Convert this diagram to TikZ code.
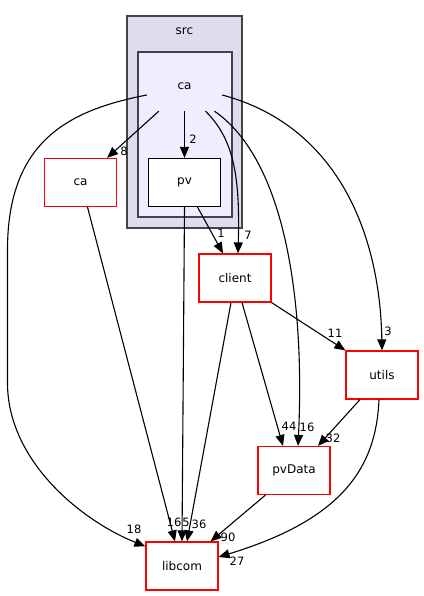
\documentclass[tikz,border=0pt]{standalone}
\usepackage{fontspec}
\setmainfont{DejaVu Sans}
\usepackage{xcolor}
\definecolor{outerdir}{HTML}{DDDDEE}
\definecolor{innerdir}{HTML}{EEEEFF}
\definecolor{rimgray}{HTML}{444444}
\usetikzlibrary{arrows.meta}

\begin{document}
\begin{tikzpicture}[x=1pt,y=-1pt,
    dirbox/.style={rectangle, draw=red, fill=white, line width=1.2pt,
        minimum width=72pt, minimum height=48pt, inner sep=0pt,
        font=\fontsize{12}{14}\selectfont},
    dep/.style={line width=1.1pt, -{Triangle[length=11pt,width=9pt]}},
    num/.style={font=\fontsize{11.5}{13}\selectfont, inner sep=0pt}]
    \useasboundingbox (0,0) rectangle (423,596);

    % Cluster src
    \node [rectangle,
        fill=outerdir,
        draw=rimgray,
        line width=1.5pt,
        minimum width=115pt,
        minimum height=212pt,
        label={[num, yshift=-20pt, font=\fontsize{12}{14}\selectfont]north:src}] (srcDir) at (184.5,122){};

    % Cluster ca
    \node [rectangle,
        fill=innerdir,
        draw=rimgray,
        line width=1.5pt,
        minimum width=94pt,
        minimum height=165pt] (caBox) at (185,134.5){};
    \node [rectangle,
        minimum width=75pt,
        minimum height=32pt,
        label={[num, yshift=9pt, font=\fontsize{12}{14}\selectfont]center:ca}] (caDir) at (184.5,95){};

    % Directories
    \node [dirbox, draw=black] (pv) at (184.5,182.5){pv};
    \node [dirbox] (caRed) at (80.5,182.5){ca};
    \node [dirbox] (client) at (235,278){client};
    \node [dirbox] (utils) at (382,375){utils};
    \node [dirbox] (pvData) at (294,470.5){pvData};
    \node [dirbox] (libcom) at (182,566){libcom};

    % Dependencies of ca
    \draw[dep] ([xshift=12pt]caDir.south west) -- ([xshift=-10pt]caRed.north east);
    \draw[dep] (caDir.south) -- (pv.north);
    \draw[dep] ([xshift=21pt]caDir.south) .. controls (235,140) and (240,180) .. ([xshift=3pt]client.north);
    \draw[dep] ([xshift=30pt]caDir.south) .. controls (285,160) and (305,300) .. ([xshift=4pt]pvData.north);
    \draw[dep] (caDir.east) .. controls (335,125) and (380,230) .. (utils.north);
    \draw[dep] (caDir.west) .. controls (70,110) and (7.5,140) .. (7.5,250)
        -- (7.5,383) .. controls (7.5,460) and (80,520) .. ([yshift=-5pt]libcom.north west);

    % Other dependencies
    \draw[dep] ([xshift=13pt]pv.south) -- ([xshift=-12pt]client.north);
    \draw[dep] (pv.south) -- (libcom.north);
    \draw[dep] ([xshift=7pt]caRed.south) -- ([xshift=-7pt]libcom.north);
    \draw[dep] ([xshift=-4pt]client.south) -- ([xshift=5pt]libcom.north);
    \draw[dep] ([xshift=7pt]client.south) -- ([xshift=-11pt]pvData.north);
    \draw[dep] (client.south east) -- (utils.north west);
    \draw[dep] ([xshift=-22pt]utils.south) -- ([xshift=24pt]pvData.north);
    \draw[dep] ([xshift=-3pt]utils.south) .. controls (376,470) and (340,520) .. ([yshift=9pt]libcom.east);
    \draw[dep] ([xshift=8pt]pvData.south west) -- ([xshift=-8pt]libcom.north east);

    % Counts
    \node[num] (n8) at (124,151){8};
    \node[num] (n2) at (193,139){2};
    \node[num] (n7) at (248,235){7};
    \node[num] (n1) at (221,233){1};
    \node[num] (n3) at (388,331){3};
    \node[num] (n11) at (335,333){11};
    \node[num] (n44) at (289,426){44};
    \node[num] (n16a) at (307,427){16};
    \node[num] (n32) at (333,438){32};
    \node[num] (n18) at (134,529){18};
    \node[num] (n16b) at (174,522){16};
    \node[num] (n5) at (186,522){5};
    \node[num] (n36) at (199,524){36};
    \node[num] (n90) at (228,537){90};
    \node[num] (n27) at (237,561){27};

\end{tikzpicture}
\end{document}
